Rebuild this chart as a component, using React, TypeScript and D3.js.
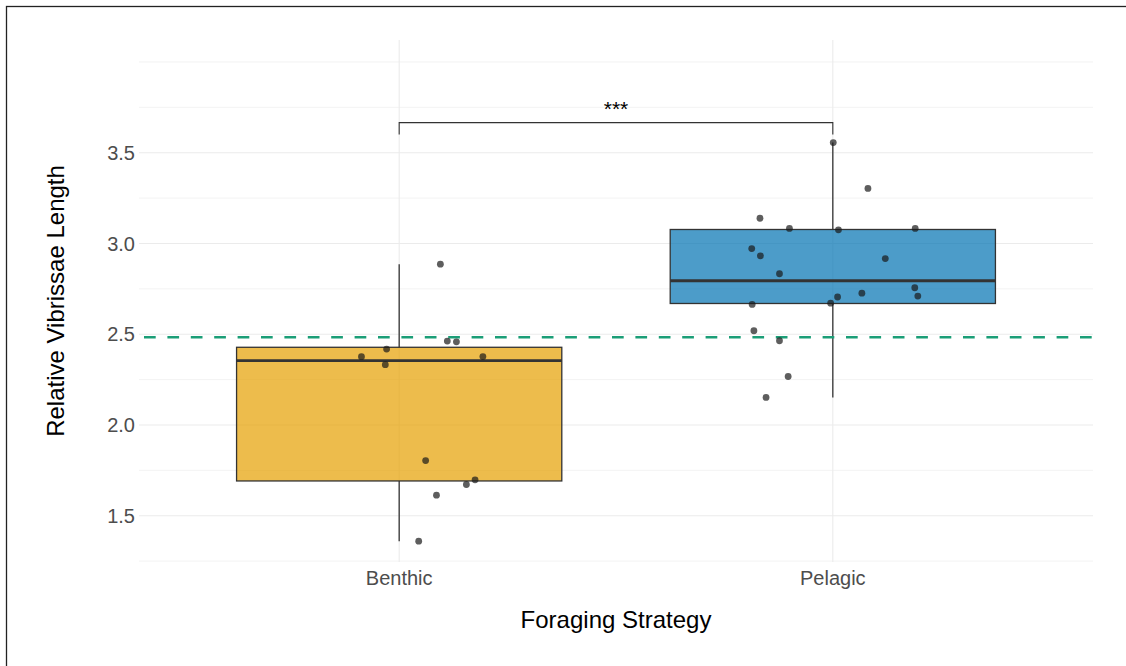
import React from "react";
import * as d3 from "d3";

const categories = ["Benthic", "Pelagic"];
const benthicValues = [2.886, 2.462, 2.458, 2.418, 2.376, 2.377, 2.332, 1.804, 1.698, 1.672, 1.613, 1.36];
const benthicJitter = [0.095, 0.111, 0.132, -0.029, -0.087, 0.193, -0.032, 0.061, 0.175, 0.155, 0.086, 0.045];
const pelagicValues = [3.556, 3.303, 3.139, 3.083, 3.075, 3.083, 2.972, 2.932, 2.917, 2.833, 2.756, 2.726, 2.71, 2.705, 2.671, 2.664, 2.519, 2.464, 2.267, 2.152];
const pelagicJitter = [0.001, 0.081, -0.168, -0.1, 0.013, 0.19, -0.187, -0.167, 0.121, -0.123, 0.189, 0.067, 0.196, 0.011, -0.005, -0.186, -0.182, -0.123, -0.103, -0.154];
const boxColors = ["#E69F00", "#0072B2"];
const yTicks = [1.5, 2.0, 2.5, 3.0, 3.5];
const yMinor = [1.25, 1.75, 2.25, 2.75, 3.25, 3.75, 4.0];
const refLine = 2.483;
const bracketY = 3.666;
const bracketTip = 3.6;
const sigLabel = "***";

export default function App() {
  const W = 1126, H = 666;
  const left = 139, right = 1093, top = 40, bottom = 562;
  const x = d3.scaleLinear().domain([0.4, 2.6]).range([left, right]);
  const y = d3.scaleLinear().domain([1.245, 4.121]).range([bottom, top]);
  const groups = [
    { name: categories[0], values: benthicValues, jitter: benthicJitter, color: boxColors[0] },
    { name: categories[1], values: pelagicValues, jitter: pelagicJitter, color: boxColors[1] },
  ];
  const stats = groups.map((g) => {
    const s = [...g.values].sort(d3.ascending);
    const q1 = d3.quantile(s, 0.25)!;
    const med = d3.quantile(s, 0.5)!;
    const q3 = d3.quantile(s, 0.75)!;
    const iqr = q3 - q1;
    const lo = d3.min(s.filter((v) => v >= q1 - 1.5 * iqr))!;
    const hi = d3.max(s.filter((v) => v <= q3 + 1.5 * iqr))!;
    return { q1, med, q3, lo, hi };
  });
  const bw = 0.75;
  const font = "'Liberation Sans', Arial, sans-serif";
  return (
    <svg width={W} height={H} style={{ position: "absolute", left: 0, top: 0, background: "#fff" }} fontFamily={font}>
      <rect x={0} y={0} width={W} height={H} fill="#fff" />
      <rect x={6.5} y={6.5} width={W + 10} height={H + 10} fill="none" stroke="#222" strokeWidth={1.3} />
      {yMinor.map((v) => (
        <line key={"mn" + v} x1={left} x2={right} y1={y(v)} y2={y(v)} stroke="#EBEBEB" strokeWidth={0.6} />
      ))}
      {yTicks.map((v) => (
        <line key={"mj" + v} x1={left} x2={right} y1={y(v)} y2={y(v)} stroke="#EBEBEB" strokeWidth={1.1} />
      ))}
      {categories.map((c, i) => (
        <line key={"vx" + c} x1={x(i + 1)} x2={x(i + 1)} y1={top} y2={bottom} stroke="#EBEBEB" strokeWidth={1.1} />
      ))}
      {groups.map((g, i) => {
        const s = stats[i];
        const cx = x(i + 1);
        const x0 = x(i + 1 - bw / 2), x1 = x(i + 1 + bw / 2);
        return (
          <g key={"box" + g.name}>
            <line x1={cx} x2={cx} y1={y(s.q3)} y2={y(s.hi)} stroke="#333" strokeWidth={1.3} />
            <line x1={cx} x2={cx} y1={y(s.q1)} y2={y(s.lo)} stroke="#333" strokeWidth={1.3} />
            <rect x={x0} y={y(s.q3)} width={x1 - x0} height={y(s.q1) - y(s.q3)} fill={g.color} fillOpacity={0.7} stroke="#333" strokeWidth={1.3} />
            <line x1={x0} x2={x1} y1={y(s.med)} y2={y(s.med)} stroke="#333" strokeWidth={2.8} />
          </g>
        );
      })}
      <line x1={left} x2={right} y1={y(refLine)} y2={y(refLine)} stroke="#1B9E77" strokeWidth={2.6} strokeDasharray="11.7 11.7" strokeDashoffset={-5} />
      {groups.map((g, i) =>
        g.values.map((v, j) => (
          <circle key={g.name + j} cx={x(i + 1 + g.jitter[j])} cy={y(v)} r={3.4} fill="#1a1a1a" fillOpacity={0.7} />
        ))
      )}
      <path d={`M${x(1)},${y(bracketTip)}V${y(bracketY)}H${x(2)}V${y(bracketTip)}`} fill="none" stroke="#333" strokeWidth={1.1} />
      <text x={(x(1) + x(2)) / 2} y={116} textAnchor="middle" fontSize={21} fill="#000">{sigLabel}</text>
      {yTicks.map((v) => (
        <text key={"yt" + v} x={135} y={y(v)} dy="0.36em" textAnchor="end" fontSize={20} fill="#4D4D4D">{v.toFixed(1)}</text>
      ))}
      {categories.map((c, i) => (
        <text key={"xt" + c} x={x(i + 1)} y={585} textAnchor="middle" fontSize={20} fill="#4D4D4D">{c}</text>
      ))}
      <text x={616} y={628} textAnchor="middle" fontSize={24} fill="#000">Foraging Strategy</text>
      <text transform={`translate(64,301) rotate(-90)`} textAnchor="middle" fontSize={24} fill="#000">Relative Vibrissae Length</text>
    </svg>
  );
}
